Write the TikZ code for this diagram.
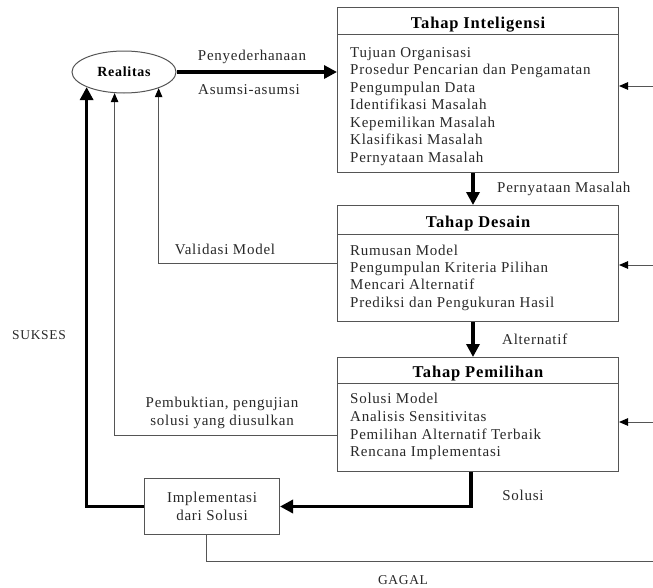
\documentclass[tikz,border=0pt]{standalone}
\usepackage{fontspec}
\setmainfont{Liberation Serif}[LetterSpace=5]
\usetikzlibrary{shapes.geometric,arrows.meta}
\definecolor{edge}{RGB}{85,85,85}
\definecolor{ink}{RGB}{40,40,40}
\begin{document}
\begin{tikzpicture}[x=1pt,y=-1pt,
  box/.style={draw=edge, line width=1pt, rectangle, inner sep=0pt, anchor=north west},
  item/.style={anchor=base west, inner sep=0pt, text=ink, font=\fontsize{15}{17.5}\selectfont},
  ttl/.style={anchor=base, inner sep=0pt, font=\bfseries\fontsize{16.5}{18}\selectfont},
  lbl/.style={inner sep=0pt, text=ink, font=\fontsize{15}{17.5}\selectfont},
  caps/.style={inner sep=0pt, text=ink, font=\fontsize{13.5}{17.5}\selectfont},
  thickarr/.style={line width=3.5pt, -{Triangle[length=13pt,width=13pt]}},
  thinarr/.style={draw=edge, line width=1pt, -{Triangle[length=9pt,width=7.5pt,color=black]}},
  thinline/.style={draw=edge, line width=1pt}]
\useasboundingbox (0,0) rectangle (653,587);
% Realitas
\node[ellipse, draw=edge, line width=1pt, minimum width=104pt, minimum height=42pt, inner sep=0pt,
      font=\bfseries\fontsize{14}{16}\selectfont] (real) at (124,72) {Realitas};
% boxes
\node[box, minimum width=281pt, minimum height=165pt] (b1) at (337,7) {};
\node[box, minimum width=281pt, minimum height=116pt] (b2) at (337,205) {};
\node[box, minimum width=281pt, minimum height=114pt] (b3) at (337,357) {};
\node[box, minimum width=135pt, minimum height=56pt] (impl) at (144,478) {};
\node[lbl, align=center] (impltxt) at (impl.center) {Implementasi\\dari Solusi};
% title separators
\draw[edge, line width=1pt] ([yshift=-27pt]b1.north west) -- ([yshift=-27pt]b1.north east);
\draw[edge, line width=1pt] ([yshift=-29pt]b2.north west) -- ([yshift=-29pt]b2.north east);
\draw[edge, line width=1pt] ([yshift=-26pt]b3.north west) -- ([yshift=-26pt]b3.north east);
% titles
\node[ttl] (t1) at (478,28) {Tahap Inteligensi};
\node[ttl] (t2) at (478,227) {Tahap Desain};
\node[ttl] (t3) at (478,377) {Tahap Pemilihan};
% items
\foreach \t [count=\i] in {Tujuan Organisasi, Prosedur Pencarian dan Pengamatan, Pengumpulan Data,
  Identifikasi Masalah, Kepemilikan Masalah, Klasifikasi Masalah, Pernyataan Masalah}
  \node[item] (ia\i) at (350,{57+17.5*(\i-1)}) {\t};
\foreach \t [count=\i] in {Rumusan Model, Pengumpulan Kriteria Pilihan, Mencari Alternatif,
  Prediksi dan Pengukuran Hasil}
  \node[item] (ib\i) at (350,{255+17.4*(\i-1)}) {\t};
\foreach \t [count=\i] in {Solusi Model, Analisis Sensitivitas, Pemilihan Alternatif Terbaik,
  Rencana Implementasi}
  \node[item] (ic\i) at (350,{403.5+17.8*(\i-1)}) {\t};
% labels
\node[lbl, anchor=base] (lpen) at (252,60) {Penyederhanaan};
\node[lbl, anchor=base] (lasu) at (249,94) {Asumsi-asumsi};
\node[lbl, anchor=base west] (lper) at (497,192) {Pernyataan Masalah};
\node[lbl, anchor=base west] (lalt) at (502,344) {Alternatif};
\node[lbl, anchor=base] (lval) at (225,254) {Validasi Model};
\node[lbl, anchor=base] (lpem1) at (222,407) {Pembuktian, pengujian};
\node[lbl, anchor=base] (lpem2) at (222,425) {solusi yang diusulkan};
\node[lbl, anchor=base] (lsol) at (523,500) {Solusi};
\node[caps, anchor=base] (lsuk) at (39,339) {SUKSES};
\node[caps, anchor=base] (lgag) at (403,584) {GAGAL};
% free ends on the right
\coordinate (r1) at (653,86);
\coordinate (r2) at (653,265);
\coordinate (r3) at (653,422);
\coordinate (g1) at (653,561);
% connectors
\draw[thickarr] (real.east) -- (b1.west |- real.east);
\draw[thickarr] ([xshift=-5pt]b1.south) -- ([xshift=-5pt]b2.north);
\draw[thickarr] ([xshift=-5pt]b2.south) -- ([xshift=-5pt]b3.north);
\draw[thickarr] ([xshift=-7pt]b3.south) |- (impl.east);
\draw[thickarr] (impl.west) -| (real.202);
\draw[thinarr] (b2.west) -| (real.-25);
\draw[thinarr] (b3.west |- 0,435) -| (real.246);
\draw[thinline] ([xshift=-6pt]impl.south) |- (g1);
\draw[thinarr] (r1) -- (b1.east |- r1);
\draw[thinarr] (r2) -- (b2.east |- r2);
\draw[thinarr] (r3) -- (b3.east |- r3);
\end{tikzpicture}
\end{document}
